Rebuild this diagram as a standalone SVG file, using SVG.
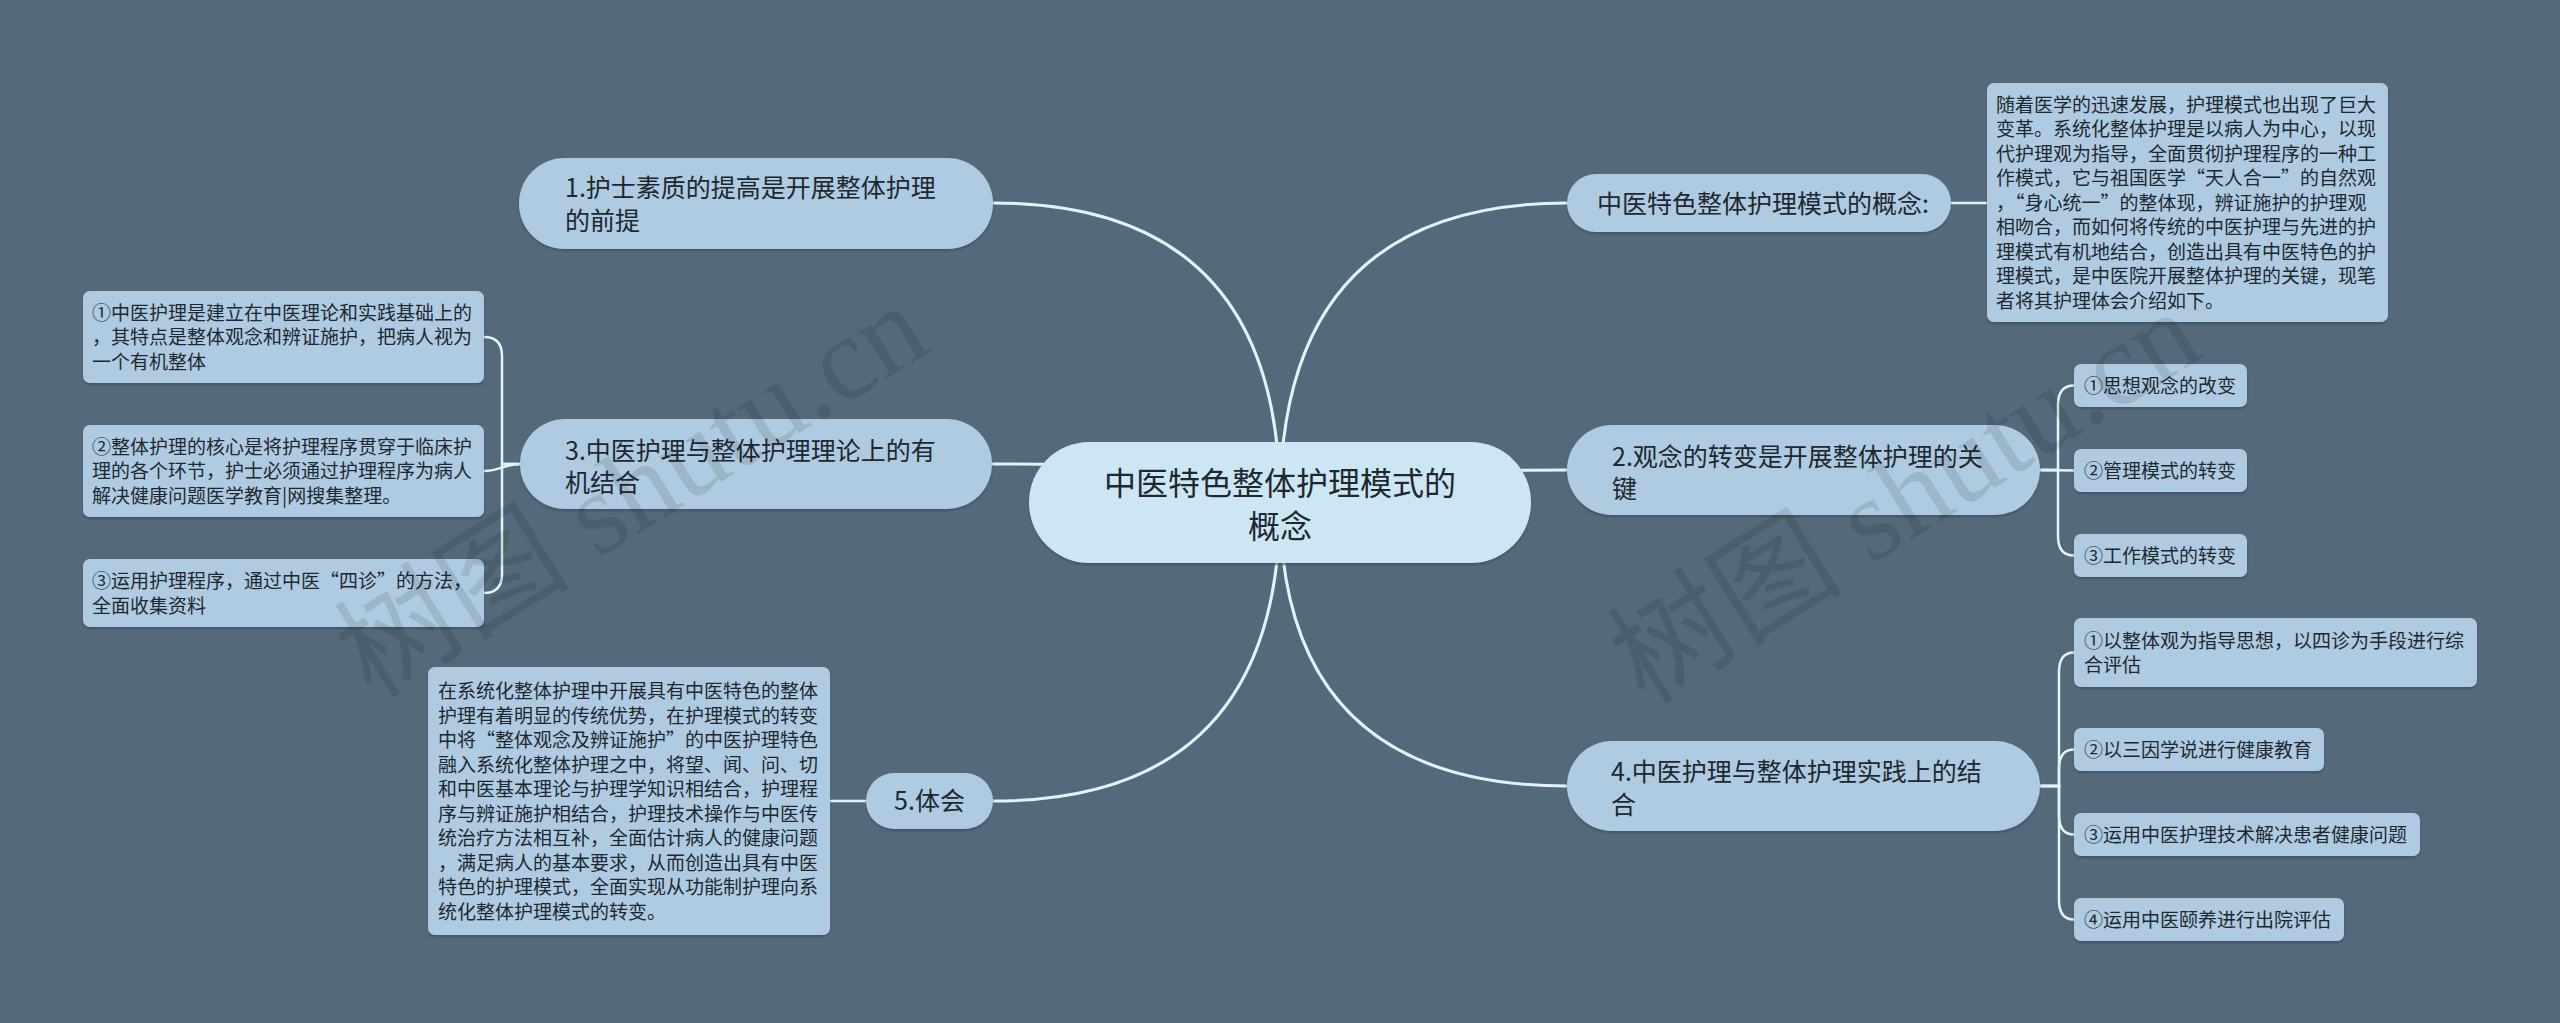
<svg xmlns="http://www.w3.org/2000/svg" width="2560" height="1023" viewBox="0 0 2560 1023">
<defs>
<filter id="sh" x="-5%" y="-10%" width="110%" height="125%">
<feDropShadow dx="0" dy="2" stdDeviation="1" flood-color="#3a4c58" flood-opacity="0.7"/>
</filter>
<style>
.bg{fill:#546a7a}
.main{fill:#cde6f3;filter:url(#sh)}
.br{fill:#aecbe1;filter:url(#sh)}
.sub{fill:#aecbe1;filter:url(#sh)}
.ln{fill:none;stroke:#e3f2f8;stroke-width:3;stroke-linecap:round}
.sl{fill:none;stroke:#e3f2f8;stroke-width:2.5;stroke-linecap:round}
text{font-family:"Noto Sans CJK SC","Noto Sans",sans-serif;fill:#1e2830}
.t32{font-size:32px}
.t25{font-size:25px}
.t19{font-size:19px}
.fw{font-feature-settings:"fwid" 1}
.wm{font-family:"Liberation Serif","Noto Sans CJK SC",serif;font-size:118px;fill:#000;opacity:0.1}
</style>
</defs>
<rect class="bg" x="0" y="0" width="2560" height="1023"/>

<g id="connectors">
<path class="ln" d="M1280 503 Q1280 203 993 203"/>
<path class="ln" d="M1280 503 Q1280 203 1567 203"/>
<path class="ln" d="M1280 503 Q1280 464 992 464"/>
<path class="ln" d="M1280 503 Q1280 470 1567 470"/>
<path class="ln" d="M1280 503 Q1280 801 993 801"/>
<path class="ln" d="M1280 503 Q1280 786 1567 786"/>
<path class="sl" d="M1951 203 L1987 203"/>
<path class="sl" d="M866 801 L830 801"/>
<path class="sl" d="M520 464 L502 464 L502 356 Q502 337 484 337"/>
<path class="sl" d="M520 464 C505 464 500 471 484 471"/>
<path class="sl" d="M520 464 L502 464 L502 574 Q502 593 484 593"/>
<path class="sl" d="M2040 470 L2058 470 L2058 405 Q2058 385.5 2074 385.5"/>
<path class="sl" d="M2040 470 L2074 470.5"/>
<path class="sl" d="M2040 470 L2058 470 L2058 536 Q2058 555.5 2074 555.5"/>
<path class="sl" d="M2040 786 L2059 786 L2059 672 Q2059 652.5 2074 652.5"/>
<path class="sl" d="M2040 786 L2059 786 L2059 769 Q2059 749.5 2074 749.5"/>
<path class="sl" d="M2040 786 L2059 786 L2059 815 Q2059 834.5 2074 834.5"/>
<path class="sl" d="M2040 786 L2059 786 L2059 900 Q2059 919.5 2074 919.5"/>
</g>

<g id="root">
<rect class="main" x="1029" y="442" width="502" height="121" rx="60.5"/>
<text class="t32" x="1280" y="495" text-anchor="middle">中医特色整体护理模式的</text>
<text class="t32" x="1280" y="538" text-anchor="middle">概念</text>
</g>

<g id="n1">
<rect class="br" x="519" y="158" width="474" height="91" rx="45.5"/>
<text class="t25" x="565" y="197">1.护士素质的提高是开展整体护理</text>
<text class="t25" x="565" y="230">的前提</text>
</g>

<g id="n3">
<rect class="br" x="520" y="419" width="472" height="90" rx="45"/>
<text class="t25" x="565" y="460">3.中医护理与整体护理理论上的有</text>
<text class="t25" x="565" y="492">机结合</text>
</g>

<g id="n5">
<rect class="br" x="866" y="773" width="127" height="56" rx="28"/>
<text class="t25" x="929.5" y="810" text-anchor="middle">5.体会</text>
</g>

<g id="n0">
<rect class="br" x="1567" y="174" width="384" height="58" rx="29"/>
<text class="t25" x="1597" y="213">中医特色整体护理模式的概念:</text>
</g>

<g id="n2">
<rect class="br" x="1567" y="425" width="473" height="90" rx="45"/>
<text class="t25" x="1612" y="466">2.观念的转变是开展整体护理的关</text>
<text class="t25" x="1612" y="498">键</text>
</g>

<g id="n4">
<rect class="br" x="1567" y="741" width="473" height="90" rx="45"/>
<text class="t25" x="1611" y="781">4.中医护理与整体护理实践上的结</text>
<text class="t25" x="1611" y="813.5">合</text>
</g>

<g id="n0a">
<rect class="sub" x="1987" y="83" width="401" height="239" rx="7"/>
<text class="t19" x="1996" y="111.5">随着医学的迅速发展，护理模式也出现了巨大</text>
<text class="t19" x="1996" y="136">变革。系统化整体护理是以病人为中心，以现</text>
<text class="t19" x="1996" y="160.5">代护理观为指导，全面贯彻护理程序的一种工</text>
<text class="t19" x="1996" y="185">作模式，它与祖国医学<tspan class="fw">“</tspan>天人合一<tspan class="fw">”</tspan>的自然观</text>
<text class="t19" x="1996" y="209.5">，<tspan class="fw">“</tspan>身心统一<tspan class="fw">”</tspan>的整体现，辨证施护的护理观</text>
<text class="t19" x="1996" y="234">相吻合，而如何将传统的中医护理与先进的护</text>
<text class="t19" x="1996" y="258.5">理模式有机地结合，创造出具有中医特色的护</text>
<text class="t19" x="1996" y="283">理模式，是中医院开展整体护理的关键，现笔</text>
<text class="t19" x="1996" y="307.5">者将其护理体会介绍如下。</text>
</g>

<g id="n3a">
<rect class="sub" x="83" y="291" width="401" height="92" rx="7"/>
<text class="t19" x="92" y="319.5">①中医护理是建立在中医理论和实践基础上的</text>
<text class="t19" x="92" y="344">，其特点是整体观念和辨证施护，把病人视为</text>
<text class="t19" x="92" y="368.5">一个有机整体</text>
</g>
<g id="n3b">
<rect class="sub" x="83" y="425" width="401" height="92" rx="7"/>
<text class="t19" x="92" y="453.5">②整体护理的核心是将护理程序贯穿于临床护</text>
<text class="t19" x="92" y="478">理的各个环节，护士必须通过护理程序为病人</text>
<text class="t19" x="92" y="502.5">解决健康问题医学教育|网搜集整理。</text>
</g>
<g id="n3c">
<rect class="sub" x="83" y="559" width="401" height="68" rx="7"/>
<text class="t19" x="92" y="588">③运用护理程序，通过中医<tspan class="fw">“</tspan>四诊<tspan class="fw">”</tspan>的方法，</text>
<text class="t19" x="92" y="612.5">全面收集资料</text>
</g>

<g id="n5a">
<rect class="sub" x="428" y="667" width="402" height="268" rx="7"/>
<text class="t19" x="438" y="698">在系统化整体护理中开展具有中医特色的整体</text>
<text class="t19" x="438" y="722.5">护理有着明显的传统优势，在护理模式的转变</text>
<text class="t19" x="438" y="747">中将<tspan class="fw">“</tspan>整体观念及辨证施护<tspan class="fw">”</tspan>的中医护理特色</text>
<text class="t19" x="438" y="771.5">融入系统化整体护理之中，将望、闻、问、切</text>
<text class="t19" x="438" y="796">和中医基本理论与护理学知识相结合，护理程</text>
<text class="t19" x="438" y="820.5">序与辨证施护相结合，护理技术操作与中医传</text>
<text class="t19" x="438" y="845">统治疗方法相互补，全面估计病人的健康问题</text>
<text class="t19" x="438" y="869.5">，满足病人的基本要求，从而创造出具有中医</text>
<text class="t19" x="438" y="894">特色的护理模式，全面实现从功能制护理向系</text>
<text class="t19" x="438" y="918.5">统化整体护理模式的转变。</text>
</g>

<g id="n2a">
<rect class="sub" x="2074" y="364" width="173" height="43" rx="7"/>
<text class="t19" x="2084" y="392.7">①思想观念的改变</text>
</g>
<g id="n2b">
<rect class="sub" x="2074" y="449" width="173" height="43" rx="7"/>
<text class="t19" x="2084" y="477.7">②管理模式的转变</text>
</g>
<g id="n2c">
<rect class="sub" x="2074" y="534" width="173" height="43" rx="7"/>
<text class="t19" x="2084" y="562.7">③工作模式的转变</text>
</g>

<g id="n4a">
<rect class="sub" x="2074" y="618" width="403" height="69" rx="7"/>
<text class="t19" x="2084" y="647.5">①以整体观为指导思想，以四诊为手段进行综</text>
<text class="t19" x="2084" y="672">合评估</text>
</g>
<g id="n4b">
<rect class="sub" x="2074" y="728" width="250" height="43" rx="7"/>
<text class="t19" x="2084" y="756.7">②以三因学说进行健康教育</text>
</g>
<g id="n4c">
<rect class="sub" x="2074" y="813" width="346" height="43" rx="7"/>
<text class="t19" x="2084" y="841.7">③运用中医护理技术解决患者健康问题</text>
</g>
<g id="n4d">
<rect class="sub" x="2074" y="898" width="270" height="43" rx="7"/>
<text class="t19" x="2084" y="926.7">④运用中医颐养进行出院评估</text>
</g>

<g id="watermark">
<text class="wm" transform="translate(372,700) rotate(-32)">树图 shutu.cn</text>
<text class="wm" transform="translate(1645,706) rotate(-32)">树图 shutu.cn</text>
</g>
</svg>
